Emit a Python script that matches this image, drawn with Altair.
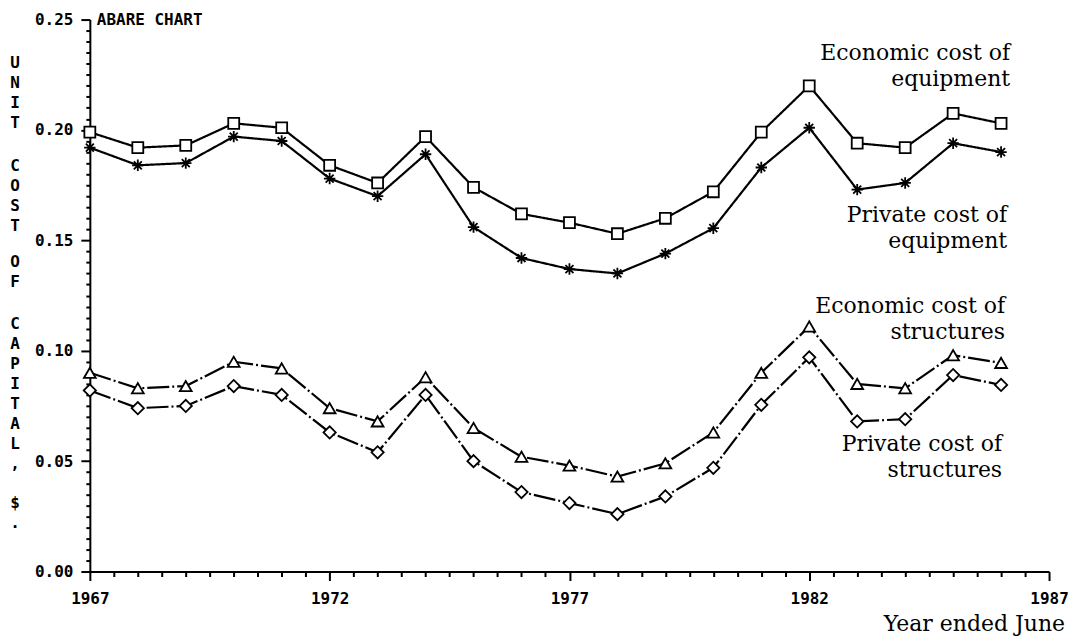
import json
import altair as alt
import pandas as pd

# ---------------- data ----------------
years = list(range(1967, 1987))
econ_equip = [0.199, 0.192, 0.193, 0.203, 0.201, 0.184, 0.176, 0.197, 0.174, 0.162,
              0.158, 0.153, 0.160, 0.172, 0.199, 0.220, 0.194, 0.192, 0.2075, 0.203]
priv_equip = [0.192, 0.184, 0.185, 0.197, 0.195, 0.178, 0.170, 0.189, 0.156, 0.142,
              0.137, 0.135, 0.144, 0.1555, 0.183, 0.201, 0.173, 0.176, 0.194, 0.190]
econ_struct = [0.090, 0.083, 0.084, 0.095, 0.092, 0.074, 0.068, 0.088, 0.065, 0.052,
               0.048, 0.043, 0.049, 0.063, 0.090, 0.111, 0.085, 0.083, 0.098, 0.0945]
priv_struct = [0.082, 0.074, 0.075, 0.084, 0.080, 0.063, 0.054, 0.080, 0.050, 0.036,
               0.031, 0.026, 0.034, 0.047, 0.0755, 0.097, 0.068, 0.069, 0.089, 0.0845]

series_names = ["Economic cost of equipment", "Private cost of equipment",
                "Economic cost of structures", "Private cost of structures"]
series_labels = [["Economic cost of", "equipment"], ["Private cost of", "equipment"],
                 ["Economic cost of", "structures"], ["Private cost of", "structures"]]

x_tick_labels = [1967, 1972, 1977, 1982, 1987]
y_tick_labels = [0.00, 0.05, 0.10, 0.15, 0.20, 0.25]
y_title_words = ["UNIT", "COST", "OF", "CAPITAL,", "$."]
chart_note = "ABARE CHART"
x_title = "Year ended June"

rows = []
for name, vals in zip(series_names, [econ_equip, priv_equip, econ_struct, priv_struct]):
    for yr, v in zip(years, vals):
        rows.append({"year": yr, "value": v, "series": name})
df = pd.DataFrame(rows)
one = pd.DataFrame({"k": [0]})  # single row for annotation texts

# ---------------- axes ----------------
x_minor = [1967 + 0.5 * i for i in range(41)]
y_minor = [round(0.005 * i, 3) for i in range(51)]
x_major_test = "indexof(%s, datum.value) >= 0" % json.dumps(x_tick_labels)
y_major_test = "indexof(%s, round(datum.value*1000)) >= 0" % json.dumps(
    [int(round(v * 1000)) for v in y_tick_labels])

AX_FONT = "DejaVu Sans Mono"
LBL_FONT = "DejaVu Serif"

x_axis = alt.Axis(
    values=x_minor, title=None, grid=False,
    labelExpr="%s ? toString(datum.value) : ''" % x_major_test,
    labelFont=AX_FONT, labelFontSize=16, labelFontWeight="bold", labelColor="black",
    labelPadding=10, labelOverlap=False, labelBound=False, labelFlush=False,
    tickSize={"condition": {"test": x_major_test, "value": 9}, "value": 5},
    tickColor="black", tickWidth=2, domainColor="black", domainWidth=2,
)
y_axis = alt.Axis(
    values=y_minor, title=None, grid=False,
    labelExpr="%s ? format(datum.value, '.2f') : ''" % y_major_test,
    labelFont=AX_FONT, labelFontSize=16, labelFontWeight="bold", labelColor="black",
    labelPadding=8, labelOverlap=False, labelBound=False, labelFlush=False,
    tickSize={"condition": {"test": y_major_test, "value": 9}, "value": 4},
    tickColor="black", tickWidth=2, domainColor="black", domainWidth=2,
)

X = alt.X("year:Q", scale=alt.Scale(domain=[1967, 1987], nice=False, zero=False), axis=x_axis)
Y = alt.Y("value:Q", scale=alt.Scale(domain=[0, 0.25], nice=False), axis=y_axis)

ASTERISK = "M0,-1L0,1M-1,0L1,0M-0.7,-0.7L0.7,0.7M-0.7,0.7L0.7,-0.7"

base = alt.Chart(df)
lines = base.mark_line(color="black", strokeWidth=2.2).encode(
    x=X, y=Y, detail="series:N",
    strokeDash=alt.StrokeDash("series:N", legend=None, scale=alt.Scale(
        domain=series_names, range=[[1, 0], [1, 0], [22, 3, 2, 3], [22, 3, 2, 3]])),
)
points = base.mark_point(filled=False, fill="white", fillOpacity=1, stroke="black",
                         strokeWidth=1.8, opacity=1).encode(
    x=X, y=Y,
    shape=alt.Shape("series:N", legend=None, scale=alt.Scale(
        domain=series_names, range=["square", ASTERISK, "triangle-up", "diamond"])),
    size=alt.Size("series:N", legend=None, scale=alt.Scale(
        domain=series_names, range=[120, 150, 110, 90])),
)

def label(text, x, y):
    return alt.Chart(one).mark_text(
        text=text, align="right", baseline="alphabetic", font=LBL_FONT,
        fontSize=22, color="black", lineHeight=26,
    ).encode(x=alt.value(x), y=alt.value(y))

labels = [
    label(series_labels[0], 922, 41),
    label(series_labels[1], 919, 203),
    label(series_labels[2], 917, 294),
    label(series_labels[3], 914, 432),
]

note = alt.Chart(one).mark_text(
    text=chart_note, align="left", baseline="middle", font=AX_FONT,
    fontSize=16, fontWeight="bold", color="black",
).encode(x=alt.value(7), y=alt.value(0))

# vertical, letter-by-letter y-axis title (one block per word)
word_tops = [36, 139, 235, 297, 476]
ytitle = [
    alt.Chart(one).mark_text(
        text=list(w), align="center", baseline="top", font=AX_FONT,
        fontSize=16, fontWeight="bold", color="black", lineHeight=20,
    ).encode(x=alt.value(-75), y=alt.value(t))
    for w, t in zip(y_title_words, word_tops)
]

xtitle = alt.Chart(one).mark_text(
    text=x_title, align="right", baseline="alphabetic", font=LBL_FONT,
    fontSize=22, color="black",
).encode(x=alt.value(977), y=alt.value(613))

chart = alt.layer(lines, points, *labels, note, *ytitle, xtitle).properties(
    width=961, height=553,
    autosize=alt.AutoSizeParams(type="none"),
    padding={"left": 82, "top": 11, "right": 20, "bottom": 66},
    background="white",
).configure_view(strokeWidth=0)

chart.save("out.html", embed_options={"renderer": "svg", "actions": False})
